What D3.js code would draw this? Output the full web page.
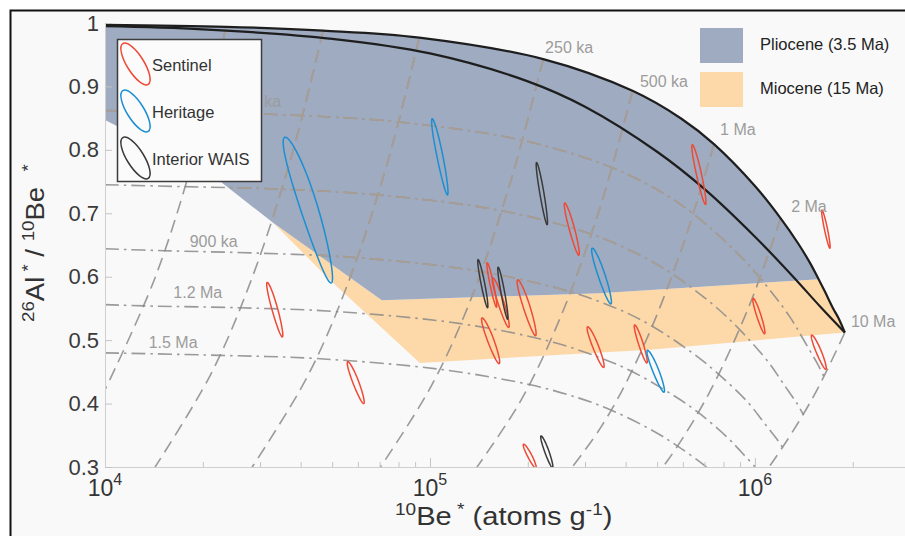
<!DOCTYPE html>
<html>
<head>
<meta charset="utf-8">
<script src="https://cdn.jsdelivr.net/npm/d3@7"></script>
<style>
  html, body { margin: 0; padding: 0; background: #fff; }
  svg { display: block; font-family: 'Liberation Sans', Arial, Helvetica, sans-serif; }
</style>
</head>
<body>
<svg id="chart" width="905" height="536"></svg>
<script>
// constant exposure curve (no erosion): [10Be*, 26Al*/10Be*]
const exposureCurve = [
  [1.0e4, 0.997], [2.36e4, 0.994], [4.69e4, 0.988], [9.27e4, 0.977],
  [2.23e5, 0.943], [4.20e5, 0.893], [5.94e5, 0.849], [7.48e5, 0.809],
  [1.00e6, 0.743], [1.20e6, 0.692], [1.36e6, 0.652], [1.48e6, 0.621],
  [1.57e6, 0.596], [1.64e6, 0.577], [1.74e6, 0.550], [1.81e6, 0.534],
  [1.89e6, 0.512]
]

// steady erosion curve
const erosionCurve = [
  [1.0e4, 0.995], [2.0e4, 0.990], [5.0e4, 0.975], [1.0e5, 0.952],
  [2.0e5, 0.908], [3.0e5, 0.868], [5.0e5, 0.797], [7.0e5, 0.738],
  [1.0e6, 0.663], [1.3e6, 0.602], [1.6e6, 0.551], [1.89e6, 0.512]
]

// lower edges of the shaded scenarios
const plioceneLower = [
  [1.57e6, 0.596], [3.33e5, 0.574], [7.11e4, 0.563], [3.29e4, 0.685],
  [2.23e4, 0.753], [1.48e4, 0.803], [1.0e4, 0.847]
]
const mioceneLower = [
  [3.29e4, 0.685], [4.92e4, 0.595], [9.31e4, 0.464], [4.75e5, 0.485], [1.89e6, 0.512]
]

// burial paths (dashed), starting on the exposure curve
const burialPaths = [
  [[2.36e4, 0.994], [1.89e4, 0.795], [1.42e4, 0.596], [9.9e3, 0.417]],
  [[4.69e4, 0.988], [3.75e4, 0.790], [2.81e4, 0.593], [2.11e4, 0.445], [1.41e4, 0.296]],
  [[9.27e4, 0.977], [7.42e4, 0.782], [5.56e4, 0.586], [4.17e4, 0.440], [2.78e4, 0.293]],
  [[2.23e5, 0.943], [1.78e5, 0.754], [1.34e5, 0.566], [1.00e5, 0.424], [6.69e4, 0.283]],
  [[4.20e5, 0.893], [3.36e5, 0.714], [2.52e5, 0.536], [1.89e5, 0.402], [1.26e5, 0.268]],
  [[7.48e5, 0.809], [5.98e5, 0.647], [4.49e5, 0.485], [3.37e5, 0.364], [2.24e5, 0.243]],
  [[1.20e6, 0.692], [9.6e5, 0.554], [7.2e5, 0.415], [5.4e5, 0.311], [4.2e5, 0.242]],
  [[1.89e6, 0.512], [1.51e6, 0.410], [1.13e6, 0.307], [9.45e5, 0.256]]
]

// burial isochrons (dash-dot): 300 ka, 600 ka, 900 ka, 1.2 Ma, 1.5 Ma
const isochrons = [
  [[1.0e4, 0.862], [2.04e4, 0.859], [4.05e4, 0.854], [8.01e4, 0.844], [1.93e5, 0.815],
   [3.63e5, 0.772], [5.13e5, 0.734], [6.46e5, 0.699], [8.64e5, 0.642], [1.037e6, 0.598],
   [1.279e6, 0.537], [1.417e6, 0.499], [1.564e6, 0.461], [1.633e6, 0.442]],
  [[1.0e4, 0.745], [1.76e4, 0.742], [3.50e4, 0.738], [6.92e4, 0.729], [1.665e5, 0.704],
   [3.14e5, 0.667], [4.43e5, 0.634], [5.58e5, 0.604], [7.47e5, 0.555], [8.96e5, 0.517],
   [1.105e6, 0.464], [1.224e6, 0.431], [1.351e6, 0.399], [1.411e6, 0.382]],
  [[1.0e4, 0.644], [1.52e4, 0.641], [3.03e4, 0.637], [5.98e4, 0.630], [1.439e5, 0.608],
   [2.71e5, 0.576], [3.83e5, 0.548], [4.83e5, 0.522], [6.45e5, 0.479], [7.74e5, 0.446],
   [9.55e5, 0.401], [1.058e6, 0.372], [1.168e6, 0.344], [1.219e6, 0.330]],
  [[1.0e4, 0.556], [1.32e4, 0.554], [2.61e4, 0.551], [5.17e4, 0.545], [1.243e5, 0.526],
   [2.34e5, 0.498], [3.31e5, 0.473], [4.17e5, 0.451], [5.57e5, 0.414], [6.69e5, 0.386],
   [8.25e5, 0.346], [9.14e5, 0.322], [1.009e6, 0.298], [1.053e6, 0.285]],
  [[1.0e4, 0.480], [2.26e4, 0.476], [4.47e4, 0.471], [1.074e5, 0.454], [2.02e5, 0.430],
   [2.86e5, 0.409], [3.60e5, 0.390], [4.82e5, 0.358], [5.78e5, 0.333], [7.13e5, 0.299],
   [7.90e5, 0.278]]
]

// labels: [text, 10Be*, ratio]
const exposureLabels = [
  ['250 ka', 2.68e5, 0.953], ['500 ka', 5.25e5, 0.899], ['1 Ma', 8.86e5, 0.824],
  ['2 Ma', 1.466e6, 0.702], ['10 Ma', 2.31e6, 0.521]
]
// the 600 ka label sits fully behind the legend, so it is left out
const isochronLabels = [
  ['300 ka', 2.94e4, 0.868], ['900 ka', 2.16e4, 0.647],
  ['1.2 Ma', 1.93e4, 0.567], ['1.5 Ma', 1.62e4, 0.488]
]

// samples: [10Be*, ratio, relative 10Be* error, ratio error]
const sentinel = [
  [6.73e5, 0.761, 0.050, 0.047], [1.654e6, 0.675, 0.030, 0.030],
  [2.735e5, 0.675, 0.053, 0.041], [3.335e4, 0.548, 0.057, 0.043],
  [5.92e4, 0.433, 0.060, 0.033], [2.03e5, 0.317, 0.046, 0.019],
  [1.029e6, 0.538, 0.043, 0.028], [1.574e6, 0.481, 0.053, 0.027],
  [4.457e5, 0.494, 0.046, 0.030], [3.24e5, 0.489, 0.060, 0.032],
  [1.54e5, 0.499, 0.064, 0.036], [1.988e5, 0.551, 0.067, 0.044],
  [1.654e5, 0.559, 0.060, 0.039], [1.551e5, 0.587, 0.035, 0.035]
]
const heritage = [
  [4.274e4, 0.705, 0.173, 0.115], [1.074e5, 0.789, 0.058, 0.060],
  [3.38e5, 0.601, 0.070, 0.044], [4.96e5, 0.451, 0.062, 0.033]
]
const interiorWAIS = [
  [2.211e5, 0.731, 0.040, 0.049], [1.455e5, 0.589, 0.036, 0.038],
  [1.677e5, 0.574, 0.036, 0.041], [2.29e5, 0.324, 0.043, 0.025]
]
const errCorrelation = -0.93

const xMajor = [1e4, 1e5, 1e6]
const xMinor = [2e4, 3e4, 4e4, 5e4, 6e4, 7e4, 8e4, 9e4,
  2e5, 3e5, 4e5, 5e5, 6e5, 7e5, 8e5, 9e5, 2e6, 3e6]
const yTicks = [0.3, 0.4, 0.5, 0.6, 0.7, 0.8, 0.9, 1.0]

const groups = [
  { name: 'Sentinel', data: sentinel, color: '#ee4a36' },
  { name: 'Heritage', data: heritage, color: '#1b8fd2' },
  { name: 'Interior WAIS', data: interiorWAIS, color: '#3a3a3a' }
]
const periods = [
  { name: 'Pliocene (3.5 Ma)', color: '#9eabc1' },
  { name: 'Miocene (15 Ma)', color: '#fdd9aa' }
]

const svg = d3.select('#chart')
const W = 905
const H = 536

svg.append('rect').attr('width', W).attr('height', H).attr('fill', '#fff')
svg.append('rect')
  .attr('x', 10.5).attr('y', 10.5).attr('width', W + 20).attr('height', H + 20)
  .attr('fill', '#f9f9f9').attr('stroke', '#111').attr('stroke-width', 2)

const x = d3.scaleLog().domain([1e4, 3e6]).range([105, 910])
const y = d3.scaleLinear().domain([0.3, 1]).range([467, 23])

const defs = svg.append('defs')
defs.append('clipPath').attr('id', 'plot').append('rect')
  .attr('x', x(1e4)).attr('y', y(1) - 4)
  .attr('width', W - x(1e4)).attr('height', y(0.3) - y(1) + 4)

const smooth = d3.line().x(d => x(d[0])).y(d => y(d[1])).curve(d3.curveCatmullRom.alpha(0.5))
const straight = d3.line().x(d => x(d[0])).y(d => y(d[1]))

// glue path pieces into one closed outline
function joinPath (parts) {
  return parts.map((p, i) => i === 0 ? p : 'L' + p.slice(1)).join('') + 'Z'
}

const miocenePath = joinPath([
  straight(mioceneLower),
  smooth(exposureCurve.filter(d => d[0] >= 1.57e6).reverse()),
  straight(plioceneLower.slice(1, 4))
])
const pliocenePath = joinPath([
  smooth(exposureCurve.filter(d => d[0] <= 1.57e6)),
  straight(plioceneLower)
])
defs.append('clipPath').attr('id', 'plio').append('path').attr('d', pliocenePath)

const plot = svg.append('g').attr('clip-path', 'url(#plot)')
plot.append('path').attr('d', miocenePath).attr('fill', periods[1].color)
plot.append('path').attr('d', pliocenePath).attr('fill', periods[0].color)

// axes
const xAxisG = svg.append('g').attr('transform', `translate(0,${y(0.3)})`)
xAxisG.call(d3.axisBottom(x).tickValues(xMinor).tickSize(-5).tickSizeOuter(0).tickFormat(''))
xAxisG.append('g')
  .call(d3.axisBottom(x).tickValues(xMajor).tickSize(-9).tickSizeOuter(0).tickFormat(''))
xAxisG.selectAll('.domain').attr('stroke', '#cfcfcf')
xAxisG.selectAll('.tick line').attr('stroke', '#c4c4c4')

const xLabels = svg.append('g')
xMajor.forEach(v => {
  const t = xLabels.append('text')
    .attr('x', x(v)).attr('y', 496)
    .attr('text-anchor', 'middle')
    .attr('font-size', 23).attr('fill', '#333')
  t.append('tspan').text('10')
  t.append('tspan').attr('dy', -11).attr('font-size', 16).text(Math.round(Math.log10(v)))
})

const yAxisG = svg.append('g').attr('transform', `translate(${x(1e4)},0)`)
yAxisG.call(d3.axisLeft(y).tickValues(yTicks).tickSize(-7).tickSizeOuter(0).tickPadding(6)
  .tickFormat(d => d === 1 ? '1' : d.toFixed(1)))
yAxisG.selectAll('.domain').attr('stroke', '#cfcfcf')
yAxisG.selectAll('.tick line').attr('stroke', '#c4c4c4')
yAxisG.selectAll('text')
  .attr('font-size', 22).attr('fill', '#3a3a3a')
  .attr('font-family', "'Liberation Sans', Arial, sans-serif")

// grid of burial paths and isochrons; inside the Pliocene field they read warmer
function drawGrid (layer, color, opacity) {
  layer.append('g').selectAll('path')
    .data(burialPaths).enter().append('path')
    .attr('d', smooth)
    .attr('fill', 'none').attr('stroke', color).attr('stroke-opacity', opacity)
    .attr('stroke-width', 1.6).attr('stroke-dasharray', '13,7')
  layer.append('g').selectAll('path')
    .data(isochrons).enter().append('path')
    .attr('d', smooth)
    .attr('fill', 'none').attr('stroke', color).attr('stroke-opacity', opacity)
    .attr('stroke-width', 1.6).attr('stroke-dasharray', '14,5,2.5,5')
}
drawGrid(plot, '#8a8a8a', 0.85)
drawGrid(plot.append('g').attr('clip-path', 'url(#plio)'), '#aa9e92', 1)

// exposure and steady erosion curves
plot.append('path').attr('d', smooth(exposureCurve))
  .attr('fill', 'none').attr('stroke', '#1e1e1e').attr('stroke-width', 2.2)
plot.append('path').attr('d', smooth(erosionCurve))
  .attr('fill', 'none').attr('stroke', '#1e1e1e').attr('stroke-width', 2.2)

// sample error ellipses
const angles = d3.range(0, 2 * Math.PI + 0.01, Math.PI / 40)
function ellipse (s) {
  const k = Math.sqrt(1 - errCorrelation * errCorrelation)
  return straight(angles.map(a => [
    s[0] * (1 + s[2] * Math.cos(a)),
    s[1] + s[3] * (errCorrelation * Math.cos(a) + k * Math.sin(a))
  ])) + 'Z'
}
groups.forEach(g => {
  plot.append('g').selectAll('path')
    .data(g.data).enter().append('path')
    .attr('d', ellipse)
    .attr('fill', 'none').attr('stroke', g.color).attr('stroke-width', 1.5)
})

// annotations
const annot = svg.append('g').attr('fill', '#9c9c9c').attr('font-size', 16)
  .attr('text-anchor', 'middle')
exposureLabels.concat(isochronLabels).forEach(l => {
  annot.append('text').attr('x', x(l[1])).attr('y', y(l[2])).text(l[0])
})

// sample legend
const leg = svg.append('g')
leg.append('rect').attr('x', 117.5).attr('y', 39.5).attr('width', 144).attr('height', 142)
  .attr('fill', '#fbfbfb').attr('stroke', '#3c3c3c').attr('stroke-width', 1.5)
groups.forEach((g, i) => {
  const cy = 64 + i * 47
  leg.append('ellipse')
    .attr('transform', `translate(135.5,${cy}) rotate(-32)`)
    .attr('rx', 8.5).attr('ry', 24)
    .attr('fill', 'none').attr('stroke', g.color).attr('stroke-width', 1.5)
  leg.append('text').attr('x', 152).attr('y', cy + 7)
    .attr('font-size', 16.5).attr('fill', '#333').text(g.name)
})

// period legend
periods.forEach((p, i) => {
  svg.append('rect').attr('x', 700).attr('y', 28 + i * 44).attr('width', 43).attr('height', 35)
    .attr('fill', p.color)
  svg.append('text').attr('x', 760).attr('y', 50 + i * 44)
    .attr('font-size', 16.5).attr('fill', '#222').text(p.name)
})

// axis titles
const yTitle = svg.append('text')
  .attr('transform', 'translate(44,322) rotate(-90) scale(1.1,1)')
  .attr('font-size', 25).attr('fill', '#333')
yTitle.append('tspan').attr('font-size', 17).attr('dy', -10).text('26')
yTitle.append('tspan').attr('dy', 10).text('Al')
yTitle.append('tspan').attr('font-size', 17).attr('dy', -10).text(' *')
yTitle.append('tspan').attr('dy', 10).text(' / ')
yTitle.append('tspan').attr('font-size', 17).attr('dy', -10).text('10')
yTitle.append('tspan').attr('dy', 10).text('Be')
yTitle.append('tspan').attr('font-size', 17).attr('dy', -10).attr('dx', 14).text('*')

const xTitle = svg.append('text')
  .attr('transform', 'translate(395,525) scale(1.12,1)')
  .attr('font-size', 26).attr('fill', '#333')
xTitle.append('tspan').attr('font-size', 17).attr('dy', -10).text('10')
xTitle.append('tspan').attr('dy', 10).text('Be')
xTitle.append('tspan').attr('font-size', 17).attr('dy', -10).text(' *')
xTitle.append('tspan').attr('dy', 10).text(' (atoms g')
xTitle.append('tspan').attr('font-size', 17).attr('dy', -10).text('-1')
xTitle.append('tspan').attr('dy', 10).text(')')
</script>
</body>
</html>
